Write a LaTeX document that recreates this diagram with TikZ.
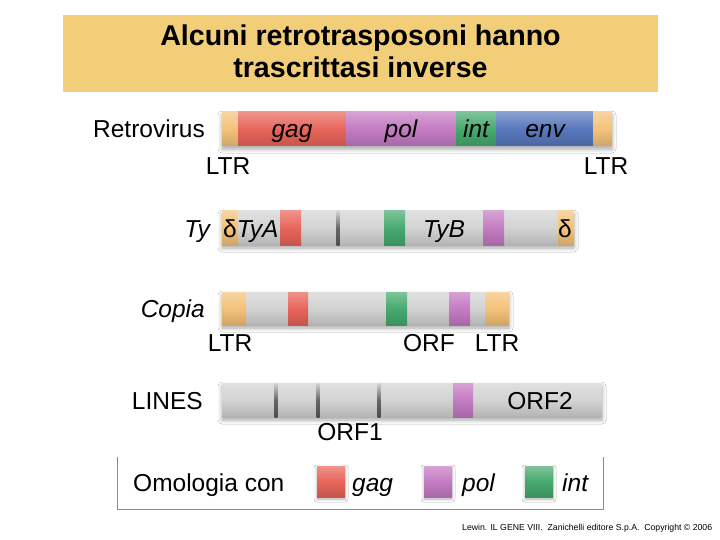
\documentclass[tikz,border=0pt]{standalone}
\usepackage{fontspec}
\setmainfont{Liberation Sans}
\usetikzlibrary{shadows.blur}

\definecolor{ltrc}{HTML}{F4C27A}
\definecolor{gagc}{HTML}{E8655A}
\definecolor{polc}{HTML}{C47BC2}
\definecolor{intc}{HTML}{46AA6E}
\definecolor{envc}{HTML}{5878BD}
\definecolor{barc}{HTML}{D3D3D3}
\definecolor{titlec}{HTML}{F2CE78}
\definecolor{framec}{HTML}{8C8C8C}

\tikzset{
	lbl/.style={font=\fontsize{24.5}{28}\selectfont, inner sep=0pt},
	gene/.style={font=\fontsize{24.5}{28}\selectfont\itshape, inner sep=0pt},
	seg/.style={top color=#1!70!white, bottom color=#1!85!black, middle color=#1},
	bardrop/.style={fill=white, blur shadow={shadow xshift=0pt, shadow yshift=-3pt, shadow blur radius=4pt, shadow opacity=35}},
}

\begin{document}
\begin{tikzpicture}[x=1pt,y=-1pt]
	\useasboundingbox (0,0) rectangle (720,540);
	\fill[white] (0,0) rectangle (720,540);
	\node[fill=titlec, minimum width=595pt, minimum height=77pt] (hdr) at (360.5,53.5) {};
	\node[align=center, inner sep=0pt, font=\fontsize{28.6}{32.5}\selectfont\bfseries] (tit) at (360.5,51.5) {Alcuni retrotrasposoni hanno\\trascrittasi inverse};

	\fill[bardrop] (222,112) rectangle (612,146);
	\foreach \c/\a/\b in {ltrc/222/238, gagc/238/346, polc/346/456, intc/456/496, envc/496/593, ltrc/593/612}
		\shade[seg=\c] (\a,112) rectangle (\b,146);
	\node[lbl, anchor=base east] (rv) at (205,138) {Retrovirus};
	\node[gene, anchor=base] (gag) at (292,138) {gag};
	\node[gene, anchor=base] (pol) at (401,138) {pol};
	\node[gene, anchor=base] (int) at (476,138) {int};
	\node[gene, anchor=base] (env) at (545,138) {env};
	\node[lbl, anchor=base] (ltra) at (228,175) {LTR};
	\node[lbl, anchor=base] (ltrb) at (606,175) {LTR};

	\fill[bardrop] (222,211) rectangle (574,245);
	\shade[seg=barc] (222,211) rectangle (574,245);
	\foreach \c/\a/\b in {ltrc/222/238, gagc/280/301, intc/384/405, polc/483/504, ltrc/558/574}
		\shade[seg=\c] (\a,211) rectangle (\b,245);
	\shade[top color=barc, bottom color=black!70, middle color=black!60] (336.5,211) rectangle (339.5,245);
	\node[gene, anchor=base east] (ty) at (210,237) {Ty};
	\node[gene, anchor=base west] (tya) at (223,237) {{\upshape δ}TyA};
	\node[gene, anchor=base] (tyb) at (444,237) {TyB};
	\node[lbl, anchor=base] (dlt) at (565,237) {δ};

	\fill[bardrop] (222,292) rectangle (509,325);
	\shade[seg=barc] (222,292) rectangle (509,325);
	\foreach \c/\a/\b in {ltrc/222/246, gagc/288/308, intc/386/407, polc/449/470, ltrc/485/509}
		\shade[seg=\c] (\a,292) rectangle (\b,325);
	\node[gene, anchor=base east] (cop) at (205,317) {Copia};
	\node[lbl, anchor=base] (ltrc) at (230,351) {LTR};
	\node[lbl, anchor=base] (orf) at (429,351) {ORF};
	\node[lbl, anchor=base] (ltrd) at (497,351) {LTR};

	\fill[bardrop] (222,383) rectangle (602,417);
	\shade[seg=barc] (222,383) rectangle (602,417);
	\shade[seg=polc] (453,383) rectangle (473,417);
	\foreach \x in {276,318,379}
		\shade[top color=barc, bottom color=black!70, middle color=black!60] (\x-1.5,383) rectangle (\x+1.5,417);
	\node[lbl, anchor=base east] (lin) at (203,409) {LINES};
	\node[lbl, anchor=base] (orfb) at (540,409) {ORF2};
	\node[lbl, anchor=base] (orfa) at (350,440) {ORF1};

	\draw[framec, line width=1pt] (117,457) -- (117,509) -- (603,509) -- (603,457);
	\node[lbl, anchor=base west] (hom) at (133,491) {Omologia con};
	\foreach \c/\a in {gagc/317, polc/424, intc/525}
		\shade[seg=\c, blur shadow={shadow xshift=0pt, shadow yshift=-2pt, shadow blur radius=3pt, shadow opacity=30}] (\a,466) rectangle (\a+28,497);
	\node[gene, anchor=base west] (kgag) at (352,491) {gag};
	\node[gene, anchor=base west] (kpol) at (462,491) {pol};
	\node[gene, anchor=base west] (kint) at (562,491) {int};

	\node[font=\fontsize{8.7}{10}\selectfont, anchor=west, inner sep=0pt] (cpr) at (462,528) {Lewin. IL GENE VIII.\ \ Zanichelli editore S.p.A.\ \ Copyright © 2006};
\end{tikzpicture}
\end{document}
